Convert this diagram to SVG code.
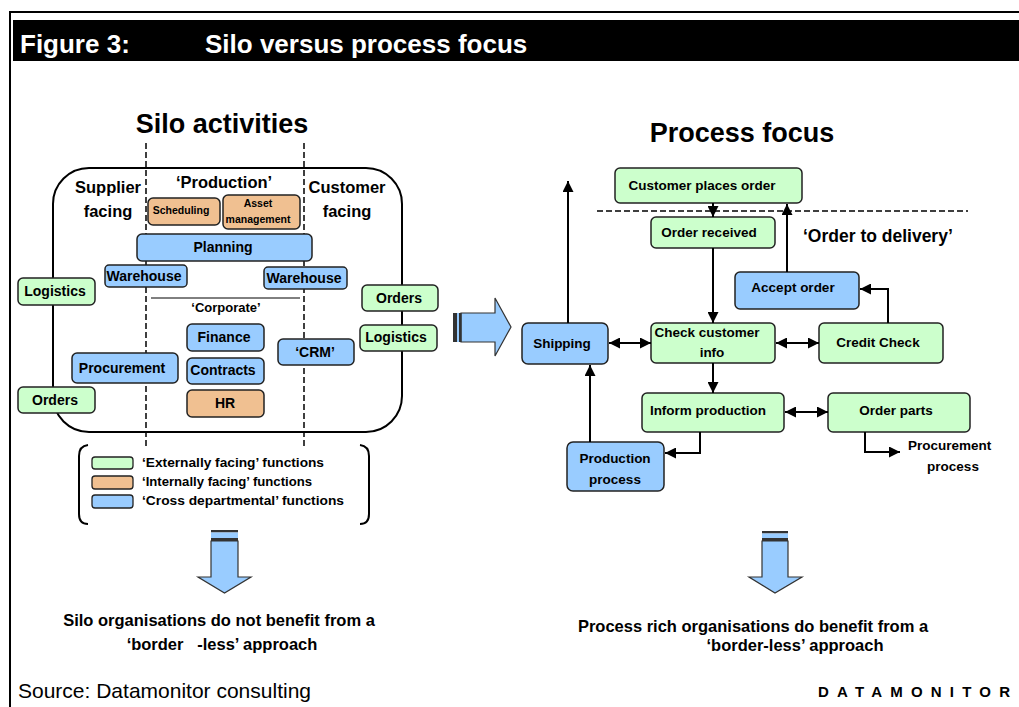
<svg xmlns="http://www.w3.org/2000/svg" width="1019" height="707" viewBox="0 0 1019 707">
<style>
text{font-family:"Liberation Sans",Arial,sans-serif;font-weight:bold;fill:#000}
.n rect{stroke:#222;stroke-width:1.5}
.g{fill:#CCFFCC}.o{fill:#F0C091}.b{fill:#99CCFF}
.t14{font-size:14px}.t11{font-size:10.5px}.t13{font-size:13.5px}
.c{stroke:#000;stroke-width:2;fill:none}
.bigarrow{fill:#99CCFF;stroke:#333;stroke-width:1.2}
.pre{white-space:pre}
</style>
<defs>
<marker id="ah" viewBox="0 0 10 10" refX="10" refY="5" markerWidth="5.5" markerHeight="5.5" orient="auto-start-reverse" markerUnits="strokeWidth">
<path d="M0,0L10,5L0,10z" fill="#000"/>
</marker>
</defs>
<rect width="1019" height="707" fill="#fff"/>
<!-- frame -->
<g id="frame">
<line x1="10" y1="12" x2="1019" y2="12" stroke="#000" stroke-width="2"/>
<line x1="10" y1="11" x2="10" y2="707" stroke="#000" stroke-width="2"/>
<rect x="13" y="20" width="1006" height="41" fill="#000"/>
<text x="20" y="53" style="font-size:26px;fill:#fff">Figure 3:</text>
<text x="205" y="53" style="font-size:26px;fill:#fff">Silo versus process focus</text>
</g>
<!-- left panel -->
<g id="silo-panel">
<text x="222" y="133" text-anchor="middle" style="font-size:27px">Silo activities</text>
<rect x="53" y="168" width="349" height="264" rx="36" fill="none" stroke="#000" stroke-width="2"/>
<line x1="146" y1="143" x2="146" y2="448" stroke="#000" stroke-width="1.5" stroke-dasharray="6,3"/>
<line x1="304" y1="143" x2="304" y2="448" stroke="#000" stroke-width="1.5" stroke-dasharray="6,3"/>
<line x1="151" y1="298" x2="300" y2="298" stroke="#000" stroke-width="1"/>
<text x="108" y="193" text-anchor="middle" style="font-size:16.5px">Supplier</text>
<text x="108" y="217" text-anchor="middle" style="font-size:16.5px">facing</text>
<text x="224" y="188" text-anchor="middle" style="font-size:16.5px">‘Production’</text>
<text x="347" y="193" text-anchor="middle" style="font-size:16.5px">Customer</text>
<text x="347" y="217" text-anchor="middle" style="font-size:16.5px">facing</text>
<text x="226" y="312" text-anchor="middle" style="font-size:13px">‘Corporate’</text>
</g>
<g id="scheduling" class="n"><rect class="o" x="148" y="198" width="72" height="27" rx="5"/><text class="t11" x="181" y="214" text-anchor="middle">Scheduling</text></g>
<g id="asset-management" class="n"><rect class="o" x="223" y="195" width="77" height="34" rx="5"/><text class="t11" x="258" y="207" text-anchor="middle">Asset</text><text class="t11" x="258" y="223" text-anchor="middle">management</text></g>
<g id="planning" class="n"><rect class="b" x="137" y="234" width="175" height="27" rx="5"/><text class="t14" x="223" y="252" text-anchor="middle">Planning</text></g>
<g id="warehouse-left" class="n"><rect class="b" x="105" y="265" width="82" height="22" rx="4"/><text class="t14" x="144" y="281" text-anchor="middle">Warehouse</text></g>
<g id="warehouse-right" class="n"><rect class="b" x="264" y="267" width="83" height="22" rx="4"/><text class="t14" x="304" y="283" text-anchor="middle">Warehouse</text></g>
<g id="logistics-left" class="n"><rect class="g" x="18" y="278" width="77" height="27" rx="5"/><text class="t14" x="55" y="296" text-anchor="middle">Logistics</text></g>
<g id="finance" class="n"><rect class="b" x="187" y="324" width="77" height="27" rx="5"/><text class="t14" x="224" y="342" text-anchor="middle">Finance</text></g>
<g id="contracts" class="n"><rect class="b" x="187" y="358" width="77" height="26" rx="5"/><text class="t14" x="223" y="375" text-anchor="middle">Contracts</text></g>
<g id="hr" class="n"><rect class="o" x="187" y="390" width="77" height="27" rx="5"/><text class="t14" x="225" y="408" text-anchor="middle">HR</text></g>
<g id="procurement" class="n"><rect class="b" x="72" y="353" width="106" height="30" rx="5"/><text class="t14" x="122" y="373" text-anchor="middle">Procurement</text></g>
<g id="orders-left" class="n"><rect class="g" x="18" y="387" width="77" height="26" rx="5"/><text class="t14" x="55" y="405" text-anchor="middle">Orders</text></g>
<g id="crm" class="n"><rect class="b" x="278" y="339" width="76" height="26" rx="5"/><text class="t14" x="315" y="357" text-anchor="middle">‘CRM’</text></g>
<g id="orders-right" class="n"><rect class="g" x="362" y="285" width="76" height="26" rx="5"/><text class="t14" x="399" y="303" text-anchor="middle">Orders</text></g>
<g id="logistics-right" class="n"><rect class="g" x="360" y="325" width="77" height="26" rx="5"/><text class="t14" x="396" y="342" text-anchor="middle">Logistics</text></g>
<!-- legend -->
<g id="legend">
<path d="M88,445 Q79,446 79,456 L79,514 Q79,524 88,524" fill="none" stroke="#000" stroke-width="2"/>
<path d="M360,445 Q369,446 369,456 L369,514 Q369,524 360,524" fill="none" stroke="#000" stroke-width="2"/>
<rect class="g" x="92" y="457" width="41" height="12" rx="3" stroke="#222" stroke-width="1.3"/>
<rect class="o" x="92" y="476" width="41" height="13" rx="3" stroke="#222" stroke-width="1.3"/>
<rect class="b" x="92" y="495" width="41" height="13" rx="3" stroke="#222" stroke-width="1.3"/>
<text x="142" y="467" style="font-size:12px" textLength="182" lengthAdjust="spacingAndGlyphs">‘Externally facing’ functions</text>
<text x="142" y="486" style="font-size:12px" textLength="170" lengthAdjust="spacingAndGlyphs">‘Internally facing’ functions</text>
<text x="142" y="505" style="font-size:12px" textLength="202" lengthAdjust="spacingAndGlyphs">‘Cross departmental’ functions</text>
</g>
<!-- big arrows -->
<g id="arrow-right">
<polygon class="bigarrow" points="461,313 495,313 495,298 511,327 495,356 495,342 461,342"/>
<rect x="453" y="313" width="4" height="29" fill="#333"/>
<rect x="457" y="313" width="2" height="29" fill="#99CCFF"/>
<rect x="459" y="313" width="2.5" height="29" fill="#333"/>
</g>
<g id="arrow-down-left">
<polygon class="bigarrow" points="211,541 238,541 238,577 251,577 224.5,593 198,577 211,577"/>
<rect x="211" y="530" width="27" height="2.5" fill="#333"/>
<rect x="211" y="532.5" width="27" height="5.5" fill="#99CCFF"/>
<rect x="211" y="538" width="27" height="3" fill="#333"/>
</g>
<g id="arrow-down-right">
<polygon class="bigarrow" points="762,541 788,541 788,577 802,577 775,593 749,577 762,577"/>
<rect x="762" y="531" width="26" height="2.5" fill="#333"/>
<rect x="762" y="533.5" width="26" height="4.5" fill="#99CCFF"/>
<rect x="762" y="538" width="26" height="3" fill="#333"/>
</g>
<!-- right panel -->
<g id="process-panel">
<text x="742" y="142" text-anchor="middle" style="font-size:27px">Process focus</text>
<line x1="597" y1="211" x2="968" y2="211" stroke="#000" stroke-width="1.5" stroke-dasharray="6,3"/>
<text x="803" y="242" style="font-size:17.5px">‘Order to delivery’</text>
<text x="908" y="450" style="font-size:13.5px">Procurement</text>
<text x="953" y="471" text-anchor="middle" style="font-size:13.5px">process</text>
</g>
<g id="customer-places-order" class="n"><rect class="g" x="615" y="168" width="187" height="35" rx="5"/><text class="t13" x="702" y="190" text-anchor="middle">Customer places order</text></g>
<g id="order-received" class="n"><rect class="g" x="651" y="217" width="124" height="31" rx="5"/><text class="t13" x="709" y="237" text-anchor="middle">Order received</text></g>
<g id="accept-order" class="n"><rect class="b" x="735" y="272" width="124" height="37" rx="5"/><text class="t13" x="793" y="292" text-anchor="middle">Accept order</text></g>
<g id="shipping" class="n"><rect class="b" x="522" y="323" width="86" height="41" rx="6"/><text class="t13" x="562" y="348" text-anchor="middle">Shipping</text></g>
<g id="check-customer-info" class="n"><rect class="g" x="651" y="323" width="124" height="40" rx="5"/><text class="t13" x="707" y="337" text-anchor="middle">Check customer</text><text class="t13" x="712" y="357" text-anchor="middle">info</text></g>
<g id="credit-check" class="n"><rect class="g" x="819" y="323" width="124" height="40" rx="5"/><text class="t13" x="878" y="347" text-anchor="middle">Credit Check</text></g>
<g id="inform-production" class="n"><rect class="g" x="642" y="393" width="142" height="39" rx="5"/><text class="t13" x="708" y="415" text-anchor="middle">Inform production</text></g>
<g id="order-parts" class="n"><rect class="g" x="828" y="393" width="142" height="39" rx="5"/><text class="t13" x="896" y="415" text-anchor="middle">Order parts</text></g>
<g id="production-process" class="n"><rect class="b" x="567" y="442" width="97" height="49" rx="6"/><text class="t13" x="615" y="463" text-anchor="middle">Production</text><text class="t13" x="615" y="484" text-anchor="middle">process</text></g>
<!-- connectors -->
<g id="connectors">
<line class="c" x1="568" y1="323" x2="568" y2="181" marker-end="url(#ah)"/>
<line class="c" x1="713" y1="203" x2="713" y2="217" marker-end="url(#ah)"/>
<line class="c" x1="787" y1="272" x2="787" y2="204" marker-end="url(#ah)"/>
<polyline class="c" points="888,323 888,289 860,289" marker-end="url(#ah)"/>
<line class="c" x1="713" y1="248" x2="713" y2="323" marker-end="url(#ah)"/>
<line class="c" x1="609" y1="343" x2="651" y2="343" marker-start="url(#ah)" marker-end="url(#ah)"/>
<line class="c" x1="776" y1="343" x2="819" y2="343" marker-start="url(#ah)" marker-end="url(#ah)"/>
<line class="c" x1="713" y1="363" x2="713" y2="393" marker-end="url(#ah)"/>
<line class="c" x1="785" y1="412" x2="828" y2="412" marker-start="url(#ah)" marker-end="url(#ah)"/>
<line class="c" x1="590" y1="442" x2="590" y2="365" marker-end="url(#ah)"/>
<polyline class="c" points="700,432 700,453 665,453" marker-end="url(#ah)"/>
<polyline class="c" points="865,432 865,452 900,452" marker-end="url(#ah)"/>
</g>
<!-- conclusions -->
<g id="conclusions">
<text x="219" y="626" text-anchor="middle" style="font-size:16.5px">Silo organisations do not benefit from a</text>
<text x="222" y="650" text-anchor="middle" class="pre" style="font-size:16.5px">‘border   -less’ approach</text>
<text x="753" y="632" text-anchor="middle" style="font-size:16.5px">Process rich organisations do benefit from a</text>
<text x="795" y="651" text-anchor="middle" style="font-size:16.5px">‘border-less’ approach</text>
</g>
<g id="footer">
<text x="18" y="698" style="font-size:21px;font-weight:normal">Source: Datamonitor consulting</text>
<text x="818" y="697" style="font-size:15px;letter-spacing:8.2px">DATAMONITOR</text>
</g>
</svg>
